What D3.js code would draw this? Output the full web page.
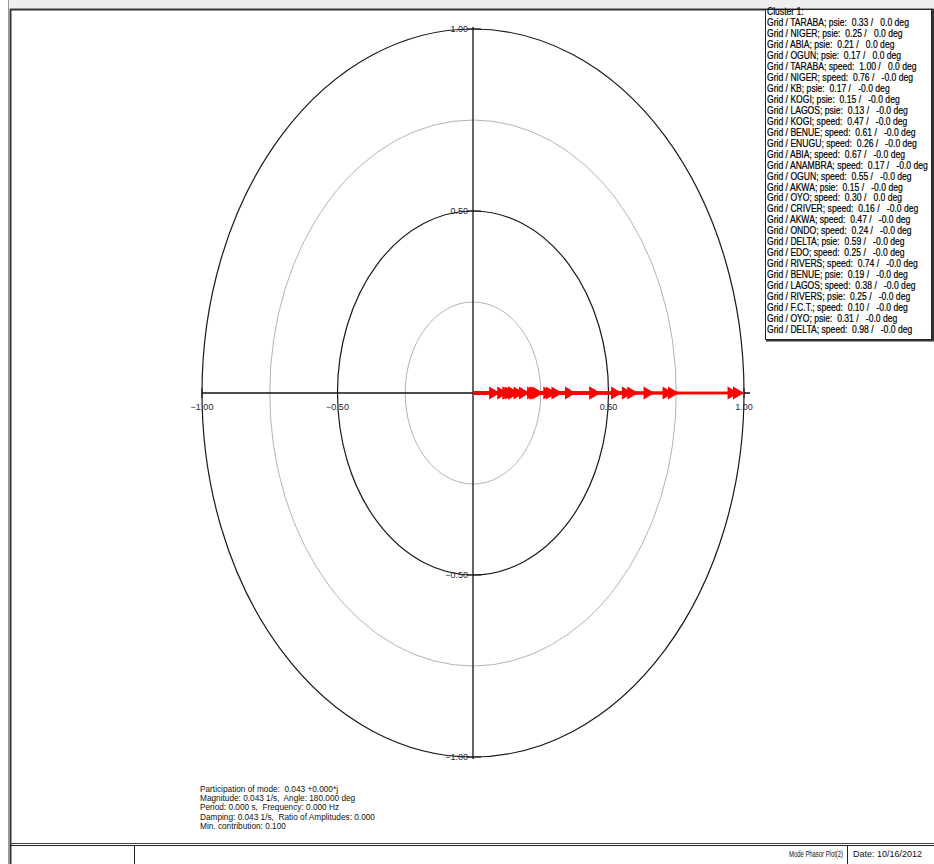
<!DOCTYPE html>
<html>
<head>
<meta charset="utf-8">
<script src="https://cdn.jsdelivr.net/npm/d3@7"></script>
<style>
body { margin: 0; background: #fff; }
svg { display: block; font-family: "Liberation Sans", Arial, sans-serif; }
</style>
</head>
<body>
<svg id="chart" width="934" height="864"></svg>
<script>
// legend rows of cluster 1: bus name, signal, magnitude, angle text
var bus_names = ["TARABA", "NIGER", "ABIA", "OGUN", "TARABA", "NIGER", "KB", "KOGI", "LAGOS", "KOGI",
    "BENUE", "ENUGU", "ABIA", "ANAMBRA", "OGUN", "AKWA", "OYO", "CRIVER", "AKWA", "ONDO",
    "DELTA", "EDO", "RIVERS", "BENUE", "LAGOS", "RIVERS", "F.C.T.", "OYO", "DELTA"];
var signals = ["psie", "psie", "psie", "psie", "speed", "speed", "psie", "psie", "psie", "speed",
    "speed", "speed", "speed", "speed", "speed", "psie", "speed", "speed", "speed", "speed",
    "psie", "speed", "speed", "psie", "speed", "psie", "speed", "psie", "speed"];
var magnitudes = [0.33, 0.25, 0.21, 0.17, 1.00, 0.76, 0.17, 0.15, 0.13, 0.47,
    0.61, 0.26, 0.67, 0.17, 0.55, 0.15, 0.30, 0.16, 0.47, 0.24,
    0.59, 0.25, 0.74, 0.19, 0.38, 0.25, 0.10, 0.31, 0.98];
var angles = ["0.0", "0.0", "0.0", "0.0", "0.0", "-0.0", "-0.0", "-0.0", "-0.0", "-0.0",
    "-0.0", "-0.0", "-0.0", "-0.0", "-0.0", "-0.0", "0.0", "-0.0", "-0.0", "-0.0",
    "-0.0", "-0.0", "-0.0", "-0.0", "-0.0", "-0.0", "-0.0", "-0.0", "-0.0"];

var ring_values = [1.0, 0.75, 0.5, 0.25];
var tick_values = [-1, -0.5, 0.5, 1];

var info_lines = [
    "Participation of mode:  0.043 +0.000*j",
    "Magnitude: 0.043 1/s,  Angle: 180.000 deg",
    "Period: 0.000 s,  Frequency: 0.000 Hz",
    "Damping: 0.043 1/s,  Ratio of Amplitudes: 0.000",
    "Min. contribution: 0.100"
];

var svg = d3.select("#chart");

// page frame
svg.append("rect").attr("x", 9).attr("y", 0).attr("width", 925).attr("height", 8).attr("fill", "#efefef");
svg.append("line").attr("x1", 8.5).attr("x2", 8.5).attr("y1", 0).attr("y2", 864).attr("stroke", "#999").attr("stroke-width", 1);
svg.append("path").attr("d", "M10.5,864V9.5H934").attr("fill", "none").attr("stroke", "#333").attr("stroke-width", 2);

// bottom title block
svg.append("line").attr("x1", 10).attr("x2", 934).attr("y1", 843.5).attr("y2", 843.5).attr("stroke", "#444");
svg.append("line").attr("x1", 10).attr("x2", 934).attr("y1", 845.5).attr("y2", 845.5).attr("stroke", "#222");
svg.append("line").attr("x1", 134.5).attr("x2", 134.5).attr("y1", 845).attr("y2", 864).attr("stroke", "#222");
svg.append("line").attr("x1", 847.5).attr("x2", 847.5).attr("y1", 845).attr("y2", 864).attr("stroke", "#222");
svg.append("g").attr("transform", "translate(843,857) scale(0.62,1)")
    .append("text").attr("x", 0).attr("y", 0).attr("text-anchor", "end")
    .attr("font-size", 9.5).attr("fill", "#111")
    .text("Mode Phasor Plot(2)");
svg.append("text").attr("x", 853).attr("y", 857)
    .attr("font-size", 9).attr("fill", "#111").text("Date: 10/16/2012");

// polar scales (the plot is stretched into an ellipse)
var cx = 473, cy = 393, rx = 271, ry = 364;
var x = d3.scaleLinear().domain([-1, 1]).range([cx - rx, cx + rx]);
var y = d3.scaleLinear().domain([-1, 1]).range([cy + ry, cy - ry]);

var plot = svg.append("g");

plot.selectAll("ellipse.ring")
    .data(ring_values)
    .enter()
    .append("ellipse")
    .attr("class", "ring")
    .attr("cx", x(0))
    .attr("cy", y(0))
    .attr("rx", function(d) { return x(d) - x(0); })
    .attr("ry", function(d) { return y(0) - y(d); })
    .attr("fill", "none")
    .attr("stroke", function(d, i) { return i % 2 == 0 ? "#1a1a1a" : "#b4b4b4"; })
    .attr("stroke-width", function(d, i) { return i % 2 == 0 ? 1.2 : 1; });

// axes
plot.append("line").attr("x1", x(-1)).attr("x2", x(1) + 6).attr("y1", y(0)).attr("y2", y(0))
    .attr("stroke", "#111").attr("stroke-width", 1.3);
plot.append("line").attr("x1", x(0)).attr("x2", x(0)).attr("y1", y(1) - 2).attr("y2", y(-1) + 2)
    .attr("stroke", "#111").attr("stroke-width", 1.3);

plot.selectAll("line.xtick")
    .data(tick_values)
    .enter()
    .append("line")
    .attr("class", "xtick")
    .attr("x1", function(d) { return x(d); })
    .attr("x2", function(d) { return x(d); })
    .attr("y1", y(0) - 5)
    .attr("y2", y(0) + 5)
    .attr("stroke", "#111");

plot.selectAll("line.ytick")
    .data(tick_values)
    .enter()
    .append("line")
    .attr("class", "ytick")
    .attr("x1", x(0) - 6)
    .attr("x2", x(0) + 8)
    .attr("y1", function(d) { return y(d); })
    .attr("y2", function(d) { return y(d); })
    .attr("stroke", "#111");

plot.selectAll("text.xlabel")
    .data(tick_values)
    .enter()
    .append("text")
    .attr("class", "xlabel")
    .attr("x", function(d) { return x(d); })
    .attr("y", y(0) + 17)
    .attr("text-anchor", "middle")
    .attr("font-size", 9)
    .attr("fill", "#1c2340")
    .text(function(d) { return d3.format(".2f")(d); });

plot.selectAll("text.ylabel")
    .data(tick_values)
    .enter()
    .append("text")
    .attr("class", "ylabel")
    .attr("x", x(0) - 5)
    .attr("y", function(d) { return y(d) + 3; })
    .attr("text-anchor", "end")
    .attr("font-size", 9)
    .attr("fill", "#1c2340")
    .text(function(d) { return d3.format(".2f")(d); });

// phasor arrows, all at 0 deg
var arrows = plot.append("g");
arrows.selectAll("line.phasor")
    .data(magnitudes)
    .enter()
    .append("line")
    .attr("class", "phasor")
    .attr("x1", x(0))
    .attr("x2", function(d) { return x(d); })
    .attr("y1", y(0))
    .attr("y2", y(0))
    .attr("stroke", "#ff0000")
    .attr("stroke-width", 2.5);

arrows.selectAll("path.head")
    .data(magnitudes)
    .enter()
    .append("path")
    .attr("class", "head")
    .attr("d", function(d) {
        var tip = x(d), base = y(0);
        return "M" + tip + "," + base + "L" + (tip - 11) + "," + (base - 6.5) + "L" + (tip - 11) + "," + (base + 6.5) + "Z";
    })
    .attr("fill", "#ff0000");

// legend box
var legend = svg.append("g");
legend.append("rect").attr("x", 765.5).attr("y", 9.5).attr("width", 166).attr("height", 330)
    .attr("fill", "#fff").attr("stroke", "#222").attr("stroke-width", 1);
legend.append("path").attr("d", "M766,340.5H933V10").attr("fill", "none").attr("stroke", "#333").attr("stroke-width", 2);

var legend_rows = ["Cluster 1:"];
for(var i = 0; i < bus_names.length; i++)
{
    legend_rows.push("Grid / " + bus_names[i] + "; " + signals[i] + ":  " + magnitudes[i].toFixed(2) + " /   " + angles[i] + " deg");
}

var legend_text = legend.append("g").attr("transform", "translate(767,0) scale(0.86,1)");
legend_text.selectAll("text")
    .data(legend_rows)
    .enter()
    .append("text")
    .attr("x", 0)
    .attr("y", function(d, i) { return 15 + i * 10.97; })
    .attr("font-size", 10)
    .attr("fill", "#000")
    .attr("stroke", "#000")
    .attr("stroke-width", 0.2)
    .style("white-space", "pre")
    .text(function(d) { return d; });

// mode information
var info = svg.append("g").attr("transform", "translate(200,0) scale(0.92,1)");
info.selectAll("text")
    .data(info_lines)
    .enter()
    .append("text")
    .attr("x", 0)
    .attr("y", function(d, i) { return 792 + i * 9.2; })
    .attr("font-size", 9)
    .attr("fill", "#111")
    .style("white-space", "pre")
    .text(function(d) { return d; });
</script>
</body>
</html>
